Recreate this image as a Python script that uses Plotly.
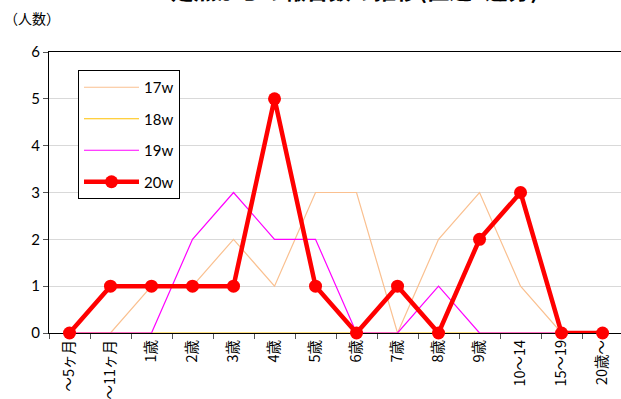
import plotly.graph_objects as go

categories = ["～5ヶ月", "～11ヶ月", "1歳", "2歳", "3歳", "4歳", "5歳", "6歳",
              "7歳", "8歳", "9歳", "10～14", "15～19", "20歳～"]
w17 = [0, 0, 1, 1, 2, 1, 3, 3, 0, 2, 3, 1, 0, 0]
w18 = [0, 0, 0, 0, 0, 0, 0, 0, 0, 0, 0, 0, 0, 0]
w19 = [0, 0, 0, 2, 3, 2, 2, 0, 0, 1, 0, 0, 0, 0]
w20 = [0, 1, 1, 1, 1, 5, 1, 0, 1, 0, 2, 3, 0, 0]
y_ticks = [0, 1, 2, 3, 4, 5, 6]

title_text = "定点からの報告数の推移(直近4週分)"
y_unit = "（人数）"

fig = go.Figure()
fig.add_trace(go.Scatter(x=categories, y=w17, name="17w", mode="lines",
                         line=dict(color="#FAC090", width=1.2), cliponaxis=False,
                         legendgroup="a"))
fig.add_trace(go.Scatter(x=categories, y=w18, name="18w", mode="lines",
                         line=dict(color="#FFC000", width=1.2), cliponaxis=False,
                         legendgroup="b"))
fig.add_trace(go.Scatter(x=categories, y=w19, name="19w", mode="lines",
                         line=dict(color="#FF00FF", width=1.2), cliponaxis=False,
                         legendgroup="c"))
fig.add_trace(go.Scatter(x=categories, y=w20, name="20w", mode="lines+markers",
                         line=dict(color="#FF0000", width=4.5),
                         marker=dict(color="#FF0000", size=13), cliponaxis=False,
                         legendgroup="d"))

fig.update_layout(
    width=621, height=399,
    margin=dict(l=49, r=0, t=52, b=66),
    paper_bgcolor="white", plot_bgcolor="white",
    font=dict(family="Noto Sans CJK JP, Noto Sans, sans-serif", color="#000000"),
    showlegend=True,
    legend=dict(
        x=29 / 572, y=1 - (70 - 52) / 281, xanchor="left", yanchor="top",
        bgcolor="white", bordercolor="#000000", borderwidth=1,
        font=dict(family="Lato, Open Sans, sans-serif", size=15, color="#000000"),
        traceorder="grouped", tracegroupgap=9,
        itemwidth=55,
        entrywidth=106, entrywidthmode="pixels",
    ),
    xaxis=dict(
        type="category", range=[-0.5, 13.45],
        tickson="boundaries", ticks="outside", ticklen=5, tickcolor="#555555",
        tickangle=-90, tickfont=dict(size=14.5, family="Noto Sans CJK JP"),
        showline=True, linecolor="#000000", linewidth=1.2, mirror=True,
        showgrid=False, layer="below traces", fixedrange=True, automargin=False,
    ),
    yaxis=dict(
        range=[0, 6], tickvals=y_ticks, ticks="outside", ticklen=5,
        tickcolor="#555555",
        tickfont=dict(size=15, family="Lato, Open Sans, sans-serif"),
        showline=True, linecolor="#000000", linewidth=1.2,
        showgrid=True, gridcolor="#D9D9D9", gridwidth=1.2, zeroline=False,
        layer="below traces", fixedrange=True, automargin=False,
    ),
    annotations=[
        dict(text="<b>" + title_text + "</b>", xref="paper", yref="paper",
             x=(355 - 49) / 572, y=1 + (52 - 7.5) / 281, xanchor="center", yanchor="bottom",
             showarrow=False, font=dict(size=22.5, family="Noto Sans CJK JP", color="#000000"),
             ),
        dict(text=y_unit, xref="paper", yref="paper",
             x=-47 / 572, y=1 + (52 - 30) / 281, xanchor="left", yanchor="bottom",
             showarrow=False, font=dict(size=14, family="Noto Sans CJK JP", color="#000000")),
    ],
)

fig.write_html("out.html", config={"displayModeBar": False},
               post_script="document.body.style.margin='0px';document.body.style.overflow='hidden';")
